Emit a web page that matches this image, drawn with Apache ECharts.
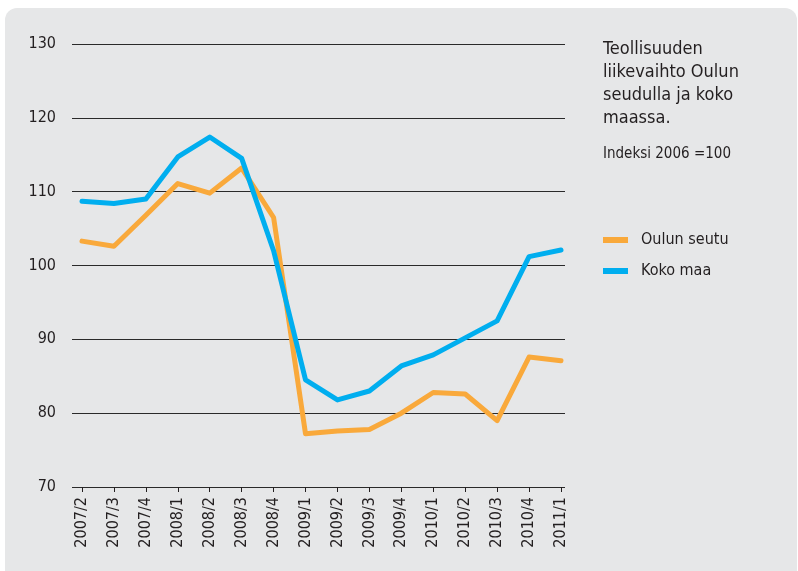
<!DOCTYPE html>
<html>
<head>
<meta charset="utf-8">
<script src="https://cdn.jsdelivr.net/npm/echarts@6/dist/echarts.min.js"></script>
<style>
  html, body { margin: 0; padding: 0; background: #fff; }
  #chart { width: 798px; height: 571px; }
</style>
</head>
<body>
<div id="chart"></div>
<script>
  // quarters
  var quarters = ['2007/2', '2007/3', '2007/4', '2008/1', '2008/2', '2008/3', '2008/4', '2009/1',
                  '2009/2', '2009/3', '2009/4', '2010/1', '2010/2', '2010/3', '2010/4', '2011/1'];
  // Oulun seutu
  var oulu = [103.3, 102.6, 106.8, 111.1, 109.8, 113.2, 106.5, 77.2,
              77.6, 77.8, 80.0, 82.8, 82.6, 79.0, 87.6, 87.1];
  // Koko maa
  var kokoMaa = [108.7, 108.4, 109.0, 114.7, 117.4, 114.5, 102.0, 84.5,
                 81.8, 83.0, 86.4, 87.9, 90.2, 92.5, 101.2, 102.1];
  var yTicks = [70, 80, 90, 100, 110, 120, 130];

  var font = '"DejaVu Sans Condensed", "Liberation Sans Narrow", sans-serif';
  var ink = '#231f20';

  var myChart = echarts.init(document.getElementById('chart'));
  var option = {
    textStyle: { fontFamily: font },
    animation: false,
    graphic: [{
      type: 'rect',
      z: -10,
      shape: { x: 5, y: 8, width: 792, height: 570, r: [12, 12, 0, 0] },
      style: { fill: '#e6e7e8' }
    }],
    title: {
      text: 'Teollisuuden\nliikevaihto Oulun\nseudulla ja koko\nmaassa.',
      subtext: 'Indeksi 2006 =100',
      left: 603,
      top: 38,
      padding: 0,
      itemGap: 17,
      textStyle: { fontFamily: font, fontSize: 18, lineHeight: 23, fontWeight: 'normal', color: ink },
      subtextStyle: { fontFamily: font, fontSize: 15, color: ink }
    },
    legend: {
      orient: 'vertical',
      left: 603,
      top: 232,
      padding: 0,
      itemGap: 15,
      itemWidth: 25,
      itemHeight: 6,
      icon: 'rect',
      textStyle: { fontFamily: font, fontSize: 16, color: ink, padding: [0, 0, 0, 8] },
      data: ['Oulun seutu', 'Koko maa']
    },
    grid: [
      { left: 72, right: 233, top: 44, bottom: 84 },
      { left: 82, right: 237, top: 44, bottom: 84 }
    ],
    xAxis: [
      { gridIndex: 0, type: 'value', min: 0, max: 1, show: false },
      {
        gridIndex: 1,
        type: 'category',
        boundaryGap: false,
        data: quarters,
        axisLine: { show: false },
        axisTick: { show: true, length: 5, lineStyle: { color: ink } },
        axisLabel: { rotate: 90, margin: 10, fontFamily: font, fontSize: 16, color: ink }
      }
    ],
    yAxis: [
      {
        gridIndex: 0,
        type: 'value',
        min: yTicks[0],
        max: yTicks[yTicks.length - 1],
        interval: 10,
        axisLine: { show: false },
        axisTick: { show: false },
        axisLabel: { margin: 16, fontFamily: font, fontSize: 16, color: ink },
        splitLine: { lineStyle: { color: '#2a2a2a', width: 1 } }
      },
      { gridIndex: 1, type: 'value', min: 70, max: 130, show: false }
    ],
    series: [
      {
        name: 'Oulun seutu',
        type: 'line',
        xAxisIndex: 1,
        yAxisIndex: 1,
        data: oulu,
        symbol: 'none',
        color: '#f9a93b',
        lineStyle: { width: 5, cap: 'round', join: 'round' }
      },
      {
        name: 'Koko maa',
        type: 'line',
        xAxisIndex: 1,
        yAxisIndex: 1,
        data: kokoMaa,
        symbol: 'none',
        color: '#00aeef',
        lineStyle: { width: 5, cap: 'round', join: 'round' }
      }
    ]
  };
  myChart.setOption(option);
</script>
</body>
</html>
